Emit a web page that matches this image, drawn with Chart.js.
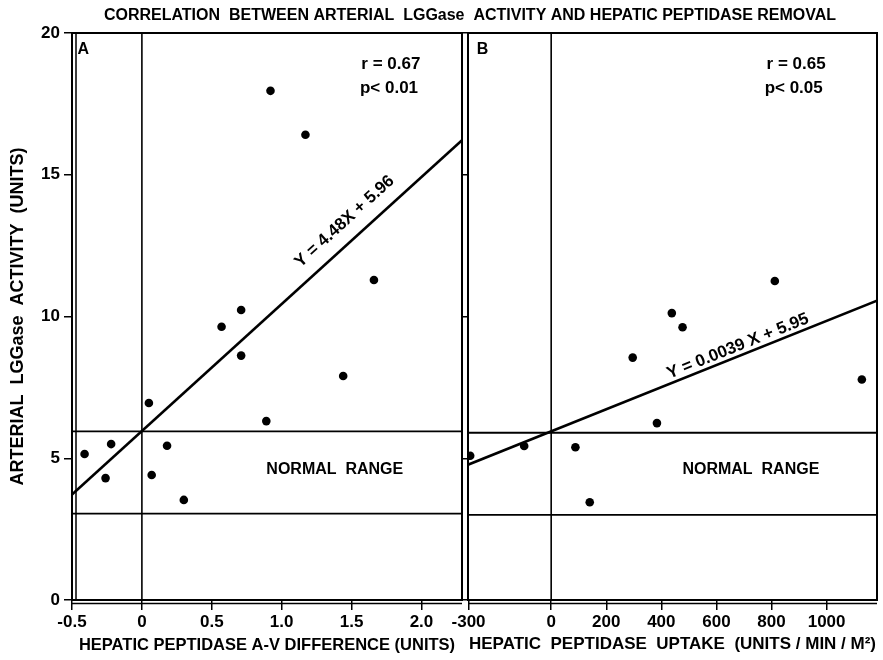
<!DOCTYPE html>
<html>
<head>
<meta charset="utf-8">
<script src="https://cdn.jsdelivr.net/npm/chart.js@4.4.0/dist/chart.umd.min.js"></script>
<style>
  html, body { margin: 0; padding: 0; background: #fff; }
  #wrap { position: relative; width: 883px; height: 660px; }
  #wrap canvas { position: absolute; left: 0; top: 0; }
</style>
</head>
<body>
<div id="wrap">
  <canvas id="panelA" width="883" height="660"></canvas>
  <canvas id="panelB" width="883" height="660"></canvas>
</div>
<script>
// Arterial LGGase activity vs hepatic peptidase removal, two panels (A and B)

const chartTitle = 'CORRELATION  BETWEEN ARTERIAL  LGGase  ACTIVITY AND HEPATIC PEPTIDASE REMOVAL';
const yTitle = 'ARTERIAL  LGGase  ACTIVITY  (UNITS)';
const yTicks = [0, 5, 10, 15, 20];

// panel A - A-V difference
const avDiff    = [-0.41, -0.26, -0.22, 0.05, 0.07, 0.18, 0.30, 0.57, 0.71, 0.71, 0.89, 0.92, 1.17, 1.44, 1.66];
const activityA = [5.15, 4.30, 5.50, 6.95, 4.41, 5.44, 3.53, 9.64, 10.23, 8.62, 6.31, 17.96, 16.41, 7.90, 11.29];
const fitAx = [-0.5, 2.29];
const fitAy = [3.72, 16.22];
const normalA = [3.05, 5.95];
const xTicksA = [-0.5, 0, 0.5, 1.0, 1.5, 2.0];
const xLabelsA = ['-0.5', '0', '0.5', '1.0', '1.5', '2.0'];
const xTitleA = 'HEPATIC PEPTIDASE A-V DIFFERENCE (UNITS)';

// panel B - uptake
const uptake    = [-294, -98, 88, 140, 296, 384, 438, 477, 812, 1128];
const activityB = [5.09, 5.43, 5.39, 3.45, 8.55, 6.24, 10.12, 9.62, 11.25, 7.78];
const fitBx = [-302, 1183];
const fitBy = [4.77, 10.56];
const normalB = [3.0, 5.9];
const xTicksB = [-300, 0, 200, 400, 600, 800, 1000];
const xLabelsB = ['-300', '0', '200', '400', '600', '800', '1000'];
const xTitleB = 'HEPATIC  PEPTIDASE  UPTAKE  (UNITS / MIN / M\u00B2)';

const FONT = '"Liberation Sans", Arial, sans-serif';
const tickFont = { family: FONT, size: 17, weight: 'bold' };

// borders, double rules and the free text of each panel
const decorPlugin = {
  id: 'decor',
  afterDatasetsDraw(chart, args, opts) {
    const { ctx, chartArea: a, scales: { x, y } } = chart;
    ctx.save();
    ctx.strokeStyle = '#000';
    ctx.lineWidth = 2;
    ctx.strokeRect(a.left, a.top, a.right - a.left, a.bottom - a.top);
    ctx.lineWidth = 1.5;
    ctx.beginPath();
    ctx.moveTo(a.left, a.bottom + 3.5);
    ctx.lineTo(a.right, a.bottom + 3.5);
    if (opts.innerLeft) {
      ctx.moveTo(a.left + 4, a.top);
      ctx.lineTo(a.left + 4, a.bottom);
    }
    ctx.stroke();

    ctx.fillStyle = '#000';
    ctx.textBaseline = 'middle';
    (opts.labels || []).forEach(function (l) {
      ctx.save();
      ctx.font = l.font;
      ctx.textAlign = l.align || 'left';
      ctx.translate(x.getPixelForValue(l.x), y.getPixelForValue(l.y));
      if (l.alongX) {
        const dx = x.getPixelForValue(l.alongX[1]) - x.getPixelForValue(l.alongX[0]);
        const dy = y.getPixelForValue(l.alongY[1]) - y.getPixelForValue(l.alongY[0]);
        ctx.rotate(Math.atan2(dy, dx));
      }
      ctx.fillText(l.text, 0, 0);
      ctx.restore();
    });

    if (opts.title) {
      ctx.font = 'bold 16px ' + FONT;
      ctx.textAlign = 'center';
      ctx.fillText(opts.title, 470, 16, 745);
    }
    ctx.restore();
  }
};

function lineSet(xs, ys, width) {
  return {
    data: xs.map(function (v, i) { return { x: v, y: ys[i] }; }),
    showLine: true, pointRadius: 0, borderColor: '#000', borderWidth: width
  };
}

function panelDatasets(xs, ys, fx, fy, normal, xmin, xmax) {
  return [
    {
      data: xs.map(function (v, i) { return { x: v, y: ys[i] }; }),
      pointRadius: 4.3, pointBackgroundColor: '#000', pointBorderColor: '#000', pointBorderWidth: 0
    },
    lineSet(fx, fy, 2.6),
    lineSet([xmin, xmax], [normal[0], normal[0]], 1.8),
    lineSet([xmin, xmax], [normal[1], normal[1]], 1.8),
    lineSet([0, 0], [0, 20], 1.6)
  ];
}

function xScale(min, max, ticks, labels, title, titleSize) {
  return {
    type: 'linear', min: min, max: max,
    afterBuildTicks: function (s) { s.ticks = ticks.map(function (v) { return { value: v }; }); },
    afterFit: function (s) { s.height = 60; },
    ticks: {
      color: '#000', font: tickFont, padding: 2, maxRotation: 0, autoSkip: false,
      callback: function (v, i) { return labels[i]; }
    },
    grid: { drawOnChartArea: false, color: '#000', tickLength: 10, lineWidth: 1.5 },
    border: { display: true, color: '#000', width: 2 },
    title: {
      display: true, text: title, color: '#000',
      font: { family: FONT, size: titleSize, weight: 'bold' }, padding: { top: 0, bottom: 5 }
    }
  };
}

function yScale(width, showLabels) {
  return {
    type: 'linear', min: 0, max: 20,
    afterBuildTicks: function (s) { s.ticks = yTicks.map(function (v) { return { value: v }; }); },
    afterFit: function (s) { s.width = width; },
    ticks: { display: showLabels, color: '#000', font: tickFont, padding: 4 },
    grid: { drawOnChartArea: false, color: '#000', tickLength: showLabels ? 8 : 5, lineWidth: 1.5 },
    border: { display: true, color: '#000', width: 2 },
    title: {
      display: showLabels, text: yTitle, color: '#000',
      font: { family: FONT, size: 18, weight: 'bold' }, padding: { top: 7, bottom: 0 }
    }
  };
}

function baseOptions() {
  return {
    responsive: false,
    animation: false,
    events: [],
    plugins: { legend: { display: false }, tooltip: { enabled: false } }
  };
}

// Panel A
const optsA = baseOptions();
optsA.layout = { padding: { left: 0, right: 421, top: 33, bottom: 0 } };
optsA.scales = { x: xScale(-0.5, 2.29, xTicksA, xLabelsA, xTitleA, 16.5), y: yScale(72, true) };
optsA.plugins.decor = {
  innerLeft: true,
  title: chartTitle,
  labels: [
    { text: 'A', x: -0.46, y: 19.4, font: 'bold 16px ' + FONT },
    { text: 'r = 0.67', x: 1.57, y: 18.9, font: 'bold 17px ' + FONT },
    { text: 'p< 0.01', x: 1.56, y: 18.05, font: 'bold 17px ' + FONT },
    { text: 'NORMAL  RANGE', x: 1.38, y: 4.6, align: 'center', font: 'bold 16px ' + FONT },
    { text: 'Y = 4.48X + 5.96', x: 1.45, y: 13.35, align: 'center', font: 'bold 17px ' + FONT,
      alongX: fitAx, alongY: fitAy }
  ]
};
new Chart(document.getElementById('panelA'), {
  type: 'scatter',
  data: { datasets: panelDatasets(avDiff, activityA, fitAx, fitAy, normalA, -0.5, 2.29) },
  options: optsA,
  plugins: [decorPlugin]
});

// Panel B
const optsB = baseOptions();
optsB.layout = { padding: { left: 0, right: 6, top: 33, bottom: 0 } };
optsB.scales = { x: xScale(-302, 1183, xTicksB, xLabelsB, xTitleB, 17), y: yScale(468, false) };
optsB.plugins.decor = {
  labels: [
    { text: 'B', x: -270, y: 19.4, font: 'bold 16px ' + FONT },
    { text: 'r = 0.65', x: 782, y: 18.9, font: 'bold 17px ' + FONT },
    { text: 'p< 0.05', x: 775, y: 18.05, font: 'bold 17px ' + FONT },
    { text: 'NORMAL  RANGE', x: 725, y: 4.6, align: 'center', font: 'bold 16px ' + FONT },
    { text: 'Y = 0.0039 X + 5.95', x: 678, y: 8.95, align: 'center', font: 'bold 17px ' + FONT,
      alongX: fitBx, alongY: fitBy }
  ]
};
new Chart(document.getElementById('panelB'), {
  type: 'scatter',
  data: { datasets: panelDatasets(uptake, activityB, fitBx, fitBy, normalB, -302, 1183) },
  options: optsB,
  plugins: [decorPlugin]
});
</script>
</body>
</html>
